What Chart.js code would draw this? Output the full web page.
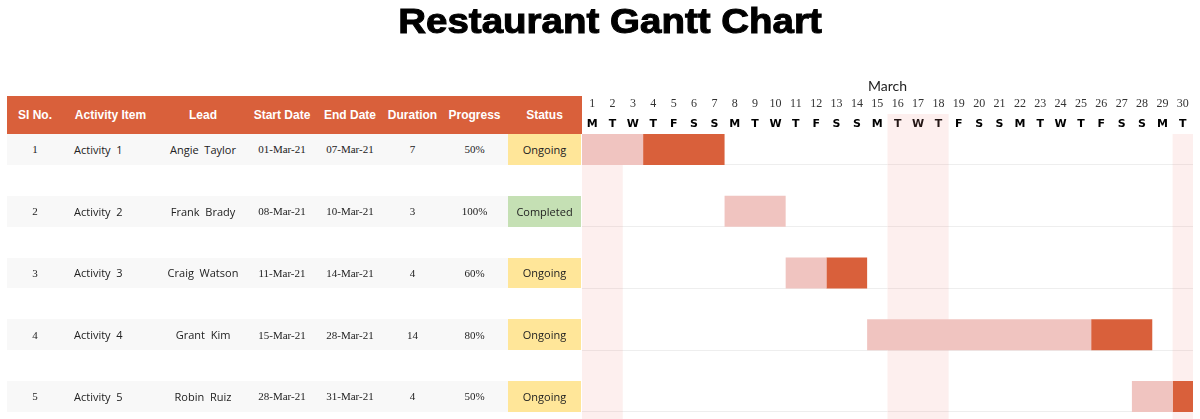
<!DOCTYPE html>
<html>
<head>
<meta charset="utf-8">
<script src="https://cdn.jsdelivr.net/npm/chart.js@4.4.0/dist/chart.umd.min.js"></script>
<style>
  html, body { margin: 0; padding: 0; background: #fff; }
  body { width: 1200px; height: 419px; overflow: hidden; position: relative; }
  #wrap { position: absolute; left: 0; top: 0; width: 1200px; height: 419px; }
  h1 {
    position: absolute; top: 1px; left: 0; width: 1220px; margin: 0;
    text-align: center; font-family: "Liberation Sans", Arial, sans-serif;
    font-weight: 900; font-size: 35px; line-height: 40px; color: #000;
    transform: scaleX(1.1); -webkit-text-stroke: 1px #000;
  }
  #table { position: absolute; left: 0; top: 0; width: 600px; height: 419px; }
  .hdr { position: absolute; left: 7px; top: 96px; width: 575px; height: 38px; background: #D9603B; }
  .band { position: absolute; left: 7px; width: 501px; background: #F8F8F8; }
  .status { position: absolute; left: 508px; width: 73px; }
  .cell {
    position: absolute; display: flex; align-items: center; justify-content: center;
    white-space: pre; color: #222; font-size: 11px;
  }
  .hdr .cell { color: #fff; font-family: "Liberation Sans", Arial, sans-serif; font-weight: bold; font-size: 12px; top: 0; height: 38px; }
  .serif { font-family: "Liberation Serif", "Times New Roman", serif; }
  .sans { font-family: "Open Sans", sans-serif; }
</style>
</head>
<body>
<div id="wrap"><canvas id="gantt" width="1200" height="419"></canvas></div>
<h1>Restaurant Gantt Chart</h1>
<div id="table"></div>
<script>
// table data
const headers = ["SI No.", "Activity Item", "Lead", "Start Date", "End Date", "Duration", "Progress", "Status"];
const ids = ["1", "2", "3", "4", "5"];
const activities = ["Activity  1", "Activity  2", "Activity  3", "Activity  4", "Activity  5"];
const leads = ["Angie  Taylor", "Frank  Brady", "Craig  Watson", "Grant  Kim", "Robin  Ruiz"];
const startDates = ["01-Mar-21", "08-Mar-21", "11-Mar-21", "15-Mar-21", "28-Mar-21"];
const endDates = ["07-Mar-21", "10-Mar-21", "14-Mar-21", "28-Mar-21", "31-Mar-21"];
const durations = [7, 3, 4, 14, 4];
const progress = ["50%", "100%", "60%", "80%", "50%"];
const statuses = ["Ongoing", "Completed", "Ongoing", "Ongoing", "Ongoing"];

// gantt data (day of March)
const startDays = [1, 8, 11, 15, 28];
const doneDays = [3, 3, 2, 11, 2];   // light part of each bar
const days = [1, 2, 3, 4, 5, 6, 7, 8, 9, 10, 11, 12, 13, 14, 15, 16, 17, 18, 19, 20, 21, 22, 23, 24, 25, 26, 27, 28, 29, 30];
const weekdays = ["M", "T", "W", "T", "F", "S", "S", "M", "T", "W", "T", "F", "S", "S", "M",
                  "T", "W", "T", "F", "S", "S", "M", "T", "W", "T", "F", "S", "S", "M", "T"];
const shadeRanges = [[1, 2], [16, 18], [30, 30]];
const shadeFromHeader = [false, true, false];

const statusColors = { "Ongoing": "#FFE699", "Completed": "#C5E0B4" };

const shadePlugin = {
  id: "shade",
  beforeDatasetsDraw(chart) {
    const { ctx, chartArea, scales: { x } } = chart;
    ctx.save();
    ctx.fillStyle = "rgba(240, 150, 140, 0.15)";
    shadeRanges.forEach(([a, b], k) => {
      const left = x.getPixelForValue(a);
      const right = x.getPixelForValue(b + 1);
      const top = shadeFromHeader[k] ? x.top : chartArea.top;
      ctx.fillRect(left, top, right - left, chartArea.bottom - top);
    });
    ctx.restore();
  }
};

const dayTicks = (scale) => { scale.ticks = days.map(d => ({ value: d + 0.5 })); };

const ctx = document.getElementById("gantt").getContext("2d");
const chart = new Chart(ctx, {
  type: "bar",
  data: {
    datasets: [
      {
        label: "Done",
        backgroundColor: "#F0C4C0",
        data: startDays.map((s, i) => ({ x: [s, s + doneDays[i]], y: i }))
      },
      {
        label: "Remaining",
        backgroundColor: "#D9603B",
        data: startDays.map((s, i) => ({ x: [s + doneDays[i], s + durations[i]], y: i }))
      }
    ]
  },
  options: {
    indexAxis: "y",
    responsive: false,
    animation: false,
    layout: { padding: { left: 582, right: 7, top: 76, bottom: 0 } },
    datasets: { bar: { grouped: false, barPercentage: 0.5, categoryPercentage: 1, borderWidth: 0 } },
    plugins: { legend: { display: false }, tooltip: { enabled: false } },
    scales: {
      x: {
        type: "linear", position: "top", min: 1, max: 31,
        grid: { display: false, drawTicks: false }, border: { display: false },
        afterBuildTicks: dayTicks,
        afterFit: (s) => { s.height = 20; },
        ticks: {
          autoSkip: false, maxRotation: 0, padding: 3, color: "#000",
          font: { family: "DejaVu Sans", weight: "bold", size: 11 },
          callback: (v, i) => weekdays[i]
        }
      },
      x2: {
        type: "linear", position: "top", min: 1, max: 31, weight: 1,
        grid: { display: false, drawTicks: false }, border: { display: false },
        afterBuildTicks: dayTicks,
        afterFit: (s) => { s.height = 38; },
        title: { display: true, text: "March", color: "#222", padding: { top: 2, bottom: 0 },
                 font: { family: "Lato", size: 14 } },
        ticks: {
          autoSkip: false, maxRotation: 0, padding: 3, color: "#333",
          font: { family: "Liberation Serif", size: 12 },
          callback: (v, i) => days[i]
        }
      },
      y: {
        type: "linear", reverse: true, min: -0.25, max: 4.365, offset: false,
        afterBuildTicks: (s) => { s.ticks = ids.map((_, i) => ({ value: i + 0.25 })); },
        ticks: { display: false },
        grid: { color: "#EEEEEE", drawTicks: false, offset: false },
        border: { display: false }
      }
    }
  },
  plugins: [shadePlugin]
});

// left-hand table, rows aligned to the chart bars
const cols = [
  { left: 7, width: 56 },
  { left: 63, width: 95, align: "flex-start", pad: 11 },
  { left: 158, width: 90 },
  { left: 248, width: 68 },
  { left: 316, width: 68 },
  { left: 384, width: 57 },
  { left: 441, width: 67 },
  { left: 508, width: 73 }
];
const fontClass = ["serif", "sans", "sans", "serif", "serif", "serif", "serif", "sans"];

const table = document.getElementById("table");
let html = '<div class="hdr">';
headers.forEach((h, c) => {
  html += `<div class="cell" style="left:${cols[c].left - 7}px;width:${cols[c].width}px">${h}</div>`;
});
html += "</div>";

const bars = chart.getDatasetMeta(0).data;
ids.forEach((id, i) => {
  const top = bars[i].y - bars[i].height / 2;
  const h = bars[i].height;
  const values = [id, activities[i], leads[i], startDates[i], endDates[i], durations[i], progress[i], statuses[i]];
  html += `<div class="band" style="top:${top}px;height:${h}px"></div>`;
  html += `<div class="status" style="top:${top}px;height:${h}px;background:${statusColors[statuses[i]]}"></div>`;
  values.forEach((v, c) => {
    const col = cols[c];
    const just = col.align || "center";
    const pad = col.pad || 0;
    html += `<div class="cell ${fontClass[c]}" style="left:${col.left + pad}px;width:${col.width - pad}px;top:${top}px;height:${h}px;justify-content:${just}">${v}</div>`;
  });
});
table.innerHTML = html;
</script>
</body>
</html>
